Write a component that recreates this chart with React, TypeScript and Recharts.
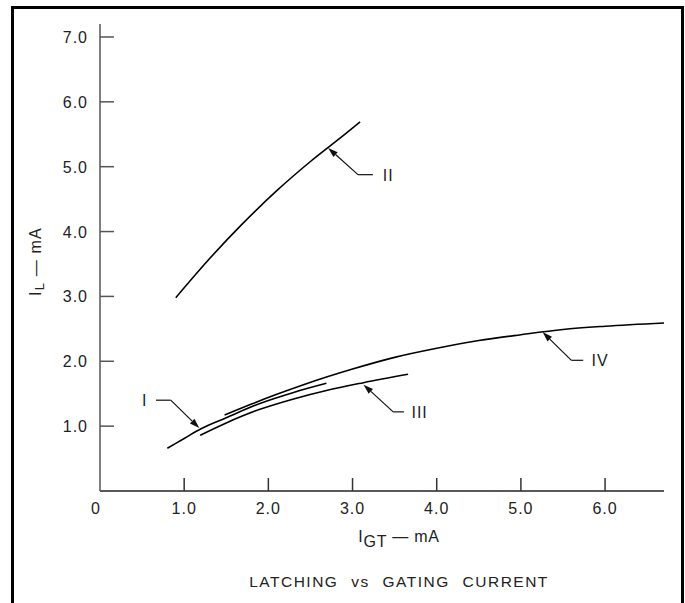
import React from 'react'
import { LineChart, Line, XAxis, YAxis, ReferenceLine, ReferenceDot } from 'recharts'

const FUENTE = '"Liberation Sans", Arial, Helvetica, sans-serif'

// ticks de los ejes
const ticksX = [0, 1, 2, 3, 4, 5, 6]
const ticksY = [1, 2, 3, 4, 5, 6, 7]

// curvas I_L vs I_GT (mA)
const curvaI = [
    { x: 0.8, y: 0.66 }, { x: 1.0, y: 0.81 }, { x: 1.2, y: 0.96 }, { x: 1.5, y: 1.13 },
    { x: 1.9, y: 1.35 }, { x: 2.3, y: 1.52 }, { x: 2.69, y: 1.66 },
]
const curvaII = [
    { x: 0.9, y: 2.98 }, { x: 1.3, y: 3.58 }, { x: 1.7, y: 4.13 }, { x: 2.1, y: 4.63 },
    { x: 2.5, y: 5.08 }, { x: 2.9, y: 5.49 }, { x: 3.09, y: 5.69 },
]
const curvaIII = [
    { x: 1.19, y: 0.86 }, { x: 1.5, y: 1.05 }, { x: 1.9, y: 1.26 }, { x: 2.3, y: 1.42 },
    { x: 2.69, y: 1.55 }, { x: 3.13, y: 1.67 }, { x: 3.66, y: 1.8 },
]
const curvaIV = [
    { x: 1.48, y: 1.17 }, { x: 1.8, y: 1.34 }, { x: 2.1, y: 1.49 }, { x: 2.4, y: 1.63 },
    { x: 2.7, y: 1.76 }, { x: 3.0, y: 1.88 }, { x: 3.5, y: 2.06 }, { x: 4.0, y: 2.2 },
    { x: 4.5, y: 2.32 }, { x: 5.0, y: 2.41 }, { x: 5.5, y: 2.49 }, { x: 6.0, y: 2.54 },
    { x: 6.7, y: 2.59 },
]

// flechas de etiqueta: punta sobre la curva, codo, fin del tramo horizontal, texto
const etiquetas = [
    { nombre: 'I', punta: [1.18, 0.97], codo: [0.84, 1.4], fin: [0.665, 1.4], texto: [0.53, 1.4], ancla: 'middle' },
    { nombre: 'II', punta: [2.71, 5.29], codo: [3.064, 4.877], fin: [3.242, 4.877], texto: [3.36, 4.877], ancla: 'start' },
    { nombre: 'III', punta: [3.13, 1.64], codo: [3.483, 1.22], fin: [3.61, 1.22], texto: [3.7, 1.22], ancla: 'start' },
    { nombre: 'IV', punta: [5.258, 2.45], codo: [5.6, 2.015], fin: [5.74, 2.015], texto: [5.84, 2.015], ancla: 'start' },
]

const TickY = ({ x, y, payload }: any) => (
    <g>
        <line x1={x + 12} x2={x + 26} y1={y} y2={y} stroke="#555" strokeWidth={1.5} />
        <text x={x} y={y + 6} textAnchor="end" fontSize={16} fill="#222" fontFamily={FUENTE} letterSpacing={1}>
            {payload.value.toFixed(1)}
        </text>
    </g>
)

const TickX = ({ x, y, payload }: any) => (
    <g>
        {payload.value !== 0 && (
            <line x1={x} x2={x} y1={y - 8} y2={y - 21} stroke="#333" strokeWidth={1.5} />
        )}
        <text x={payload.value === 0 ? x - 4 : x} y={y + 14.5} textAnchor="middle" fontSize={16} fill="#222" fontFamily={FUENTE} letterSpacing={1}>
            {payload.value === 0 ? '0' : payload.value.toFixed(1)}
        </text>
    </g>
)

const TituloX = ({ viewBox }: any) => {
    const cx = viewBox.x + viewBox.width / 2 + 17
    return (
        <g fontFamily={FUENTE} fill="#222">
            <text x={cx} y={viewBox.y + 51} textAnchor="middle" fontSize={16} letterSpacing={0.8}>
                I<tspan dy={5}>GT</tspan><tspan dy={-5}> — mA</tspan>
            </text>
            <text
                x={cx} y={viewBox.y + 96} textAnchor="middle" fontSize={15.5}
                letterSpacing={1.5} style={{ wordSpacing: 7 }}
            >
                LATCHING vs GATING CURRENT
            </text>
        </g>
    )
}

const TituloY = ({ viewBox }: any) => {
    const cx = viewBox.x - 5
    const cy = viewBox.y + viewBox.height / 2 + 4
    return (
        <text
            x={cx} y={cy} transform={`rotate(-90, ${cx}, ${cy})`}
            textAnchor="middle" dominantBaseline="central"
            fontSize={16} fill="#222" fontFamily={FUENTE} letterSpacing={1.2}
        >
            I<tspan dy={4} fontSize={13}>L</tspan><tspan dy={-4}> — mA</tspan>
        </text>
    )
}

// tramo inclinado con punta de flecha en (x1, y1)
const Flecha = (props: any) => {
    const { x1, y1, x2, y2 } = props
    const dx = x1 - x2
    const dy = y1 - y2
    const len = Math.sqrt(dx * dx + dy * dy) || 1
    const ux = dx / len
    const uy = dy / len
    const L = 10
    const W = 3.2
    const bx = x1 - ux * L
    const by = y1 - uy * L
    return (
        <g>
            <line x1={bx} y1={by} x2={x2} y2={y2} stroke="#111" strokeWidth={1.2} />
            <polygon
                points={`${x1},${y1} ${bx - uy * W},${by + ux * W} ${bx + uy * W},${by - ux * W}`}
                fill="#111"
            />
        </g>
    )
}

const Tramo = (props: any) => (
    <line x1={props.x1} y1={props.y1} x2={props.x2} y2={props.y2} stroke="#111" strokeWidth={1.2} />
)

export default function App() {
    return (
        <div style={{ position: 'absolute', left: 0, top: 0, width: 685, height: 603, background: '#fff', overflow: 'hidden' }}>
            <div
                style={{
                    position: 'absolute', left: 11, top: 6, width: 673, height: 600,
                    border: '3px solid #000', borderBottom: 'none', boxSizing: 'border-box',
                }}
            />
            <div style={{ position: 'absolute', left: 0, top: 0 }}>
                <LineChart width={685} height={603} margin={{ top: 24, right: 21, bottom: 82, left: 40 }}>
                    <XAxis
                        type="number" dataKey="x" domain={[0, 6.7]} ticks={ticksX} interval={0}
                        axisLine={{ stroke: '#222', strokeWidth: 1.5 }} tickLine={false}
                        tickSize={0} tickMargin={8} height={30} tick={<TickX />}
                        label={<TituloX />}
                    />
                    <YAxis
                        type="number" dataKey="y" domain={[0, 7.2]} ticks={ticksY} interval={0}
                        axisLine={{ stroke: '#555', strokeWidth: 1.5 }} tickLine={false}
                        tickSize={0} tickMargin={12} width={60} tick={<TickY />}
                        label={<TituloY />}
                    />
                    <Line data={curvaI} dataKey="y" type="monotone" stroke="#000" strokeWidth={1.6} dot={false} isAnimationActive={false} />
                    <Line data={curvaII} dataKey="y" type="monotone" stroke="#000" strokeWidth={1.6} dot={false} isAnimationActive={false} />
                    <Line data={curvaIII} dataKey="y" type="monotone" stroke="#000" strokeWidth={1.6} dot={false} isAnimationActive={false} />
                    <Line data={curvaIV} dataKey="y" type="monotone" stroke="#000" strokeWidth={1.6} dot={false} isAnimationActive={false} />

                    {etiquetas.map((e) => (
                        <ReferenceLine
                            key={e.nombre + '-flecha'}
                            segment={[{ x: e.punta[0], y: e.punta[1] }, { x: e.codo[0], y: e.codo[1] }]}
                            shape={Flecha}
                        />
                    ))}
                    {etiquetas.map((e) => (
                        <ReferenceLine
                            key={e.nombre + '-tramo'}
                            segment={[{ x: e.codo[0], y: e.codo[1] }, { x: e.fin[0], y: e.fin[1] }]}
                            shape={Tramo}
                        />
                    ))}
                    {etiquetas.map((e) => (
                        <ReferenceDot
                            key={e.nombre + '-texto'}
                            x={e.texto[0]} y={e.texto[1]} r={0}
                            shape={(p: any) => (
                                <text x={p.cx} y={p.cy + 6} textAnchor={e.ancla} fontSize={16} fill="#222" fontFamily={FUENTE} letterSpacing={1}>
                                    {e.nombre}
                                </text>
                            )}
                        />
                    ))}
                </LineChart>
            </div>
        </div>
    )
}
